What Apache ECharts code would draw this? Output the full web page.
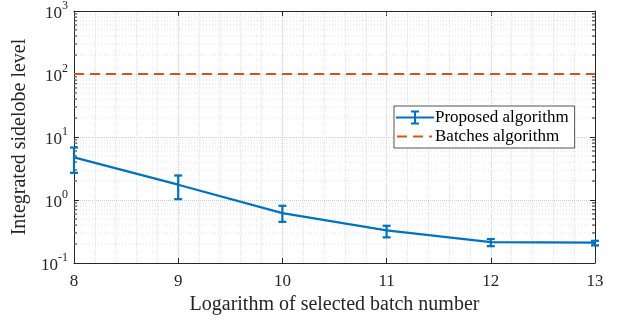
<!DOCTYPE html>
<html>
<head>
<meta charset="utf-8">
<script src="https://cdn.jsdelivr.net/npm/echarts@6/dist/echarts.min.js"></script>
<style>
html, body { margin: 0; padding: 0; background: #fff; }
#chart { width: 618px; height: 322px; }
</style>
</head>
<body>
<div id="chart"></div>
<script>
// 数据
var batchLog = [8, 9, 10, 11, 12, 13];
var proposedMean = [4.75, 1.75, 0.62, 0.33, 0.215, 0.21];
var proposedLow = [2.7, 1.03, 0.45, 0.255, 0.185, 0.19];
var proposedHigh = [6.8, 2.45, 0.81, 0.39, 0.24, 0.225];
var batchesLevel = [100, 100, 100, 100, 100, 100];
var yTicks = [0.1, 1, 10, 100, 1000];

var fontName = 'Liberation Serif';
var axisColor = '#262626';

// log轴的次网格线 2..9 x 10^k
var yMinor = [];
for (var k = -1; k < 3; k++) {
    for (var m = 2; m <= 9; m++) {
        yMinor.push(m * Math.pow(10, k));
    }
}

window.onload = function() {
    draw_chart();
}

function draw_chart() {
    var myChart = echarts.init(document.getElementById('chart'));

    // 图例图标 (38x14)
    var iconProposed = 'path://M0,6L38,6L38,8L0,8Z M18,1L20,1L20,13L18,13Z M15,0L23,0L23,2L15,2Z M15,12L23,12L23,14L15,14Z';
    var iconBatches = 'path://M0,0L0.01,0L0.01,0.01Z M37.99,13.99L38,13.99L38,14Z M1,6L11,6L11,8L1,8Z M17,6L27,6L27,8L17,8Z M33,6L36,6L36,8L33,8Z';

    var option = {
        animation: false,
        backgroundColor: '#fff',
        grid: { left: 74, right: 23, top: 9, bottom: 59, containLabel: false },
        legend: {
            orient: 'vertical',
            left: 394,
            top: 106,
            backgroundColor: '#fff',
            borderColor: axisColor,
            borderWidth: 0.8,
            borderRadius: 0,
            padding: [3, 6, 3, 2],
            itemGap: 2,
            itemWidth: 38,
            itemHeight: 14,
            textStyle: { fontFamily: fontName, fontSize: 17, color: '#000', padding: [0, 0, 0, -4] },
            data: [
                { name: 'Proposed algorithm', icon: iconProposed },
                { name: 'Batches algorithm', icon: iconBatches }
            ]
        },
        xAxis: [{
            type: 'value',
            min: 8,
            max: 13,
            interval: 1,
            position: 'bottom',
            axisLine: { onZero: false, lineStyle: { color: axisColor, width: 1 } },
            axisTick: { inside: true, length: 5, lineStyle: { color: axisColor } },
            axisLabel: { fontFamily: fontName, fontSize: 17, color: axisColor, margin: 10 },
            splitLine: { show: true, lineStyle: { type: 'dotted', color: '#cfcfcf' } },
            minorTick: { show: false, splitNumber: 5 },
            minorSplitLine: { show: true, lineStyle: { type: 'dotted', color: '#e2e2e2' } },
            name: 'Logarithm of selected batch number',
            nameLocation: 'middle',
            nameGap: 32,
            nameTextStyle: { fontFamily: fontName, fontSize: 20, color: axisColor }
        }, {
            type: 'value',
            min: 8,
            max: 13,
            interval: 1,
            position: 'top',
            axisLine: { onZero: false, lineStyle: { color: axisColor, width: 1 } },
            axisTick: { inside: true, length: 5, lineStyle: { color: axisColor } },
            axisLabel: { show: false },
            splitLine: { show: false }
        }],
        yAxis: [{
            type: 'log',
            logBase: 10,
            min: 0.1,
            max: 1000,
            position: 'left',
            axisLine: { show: true, onZero: false, lineStyle: { color: axisColor, width: 1 } },
            axisTick: { show: true, inside: true, length: 5, lineStyle: { color: axisColor } },
            axisLabel: {
                margin: 6,
                formatter: function(v) {
                    var e = Math.round(Math.log10(v));
                    return '{b|10}{s|' + e + '}';
                },
                rich: {
                    b: { fontFamily: fontName, fontSize: 17, color: axisColor, lineHeight: 22, verticalAlign: 'bottom' },
                    s: { fontFamily: fontName, fontSize: 12, color: axisColor, lineHeight: 22, verticalAlign: 'top' }
                }
            },
            splitLine: { show: true, lineStyle: { type: 'dotted', color: '#cfcfcf' } },
            name: 'Integrated sidelobe level',
            nameLocation: 'middle',
            nameGap: 38,
            nameTextStyle: { fontFamily: fontName, fontSize: 20, color: axisColor }
        }, {
            type: 'log',
            logBase: 10,
            min: 0.1,
            max: 1000,
            position: 'right',
            axisLine: { show: true, onZero: false, lineStyle: { color: axisColor, width: 1 } },
            axisTick: { show: true, inside: true, length: 5, lineStyle: { color: axisColor } },
            axisLabel: { show: false },
            splitLine: { show: false }
        }],
        series: [{
            // 次网格线和次刻度
            name: 'minor',
            type: 'custom',
            silent: true,
            z: 1,
            data: yMinor.map(function(v) { return [v]; }),
            renderItem: function(params, api) {
                var v = api.value(0);
                var p0 = api.coord([8, v]);
                var p1 = api.coord([13, v]);
                return {
                    type: 'group',
                    children: [{
                        type: 'line',
                        shape: { x1: p0[0], y1: p0[1], x2: p1[0], y2: p1[1] },
                        style: { stroke: '#e2e2e2', lineWidth: 1, lineDash: [1, 2] }
                    }, {
                        type: 'line',
                        shape: { x1: p0[0], y1: p0[1], x2: p0[0] + 3, y2: p0[1] },
                        style: { stroke: axisColor, lineWidth: 1 }
                    }, {
                        type: 'line',
                        shape: { x1: p1[0] - 3, y1: p1[1], x2: p1[0], y2: p1[1] },
                        style: { stroke: axisColor, lineWidth: 1 }
                    }]
                };
            }
        }, {
            name: 'Batches algorithm',
            type: 'line',
            showSymbol: false,
            symbol: 'none',
            z: 3,
            lineStyle: { color: '#D95319', width: 2.2, type: [10, 6] },
            itemStyle: { color: '#D95319' },
            data: batchLog.map(function(x, i) { return [x, batchesLevel[i]]; })
        }, {
            name: 'Proposed algorithm',
            type: 'line',
            showSymbol: false,
            symbol: 'none',
            z: 4,
            lineStyle: { color: '#0072BD', width: 2.2 },
            itemStyle: { color: '#0072BD' },
            data: batchLog.map(function(x, i) { return [x, proposedMean[i]]; })
        }, {
            // 误差棒
            name: 'Proposed algorithm',
            type: 'custom',
            z: 5,
            itemStyle: { color: '#0072BD' },
            data: batchLog.map(function(x, i) { return [x, proposedLow[i], proposedHigh[i]]; }),
            renderItem: function(params, api) {
                var lo = api.coord([api.value(0), api.value(1)]);
                var hi = api.coord([api.value(0), api.value(2)]);
                var w = 4;
                var st = { stroke: '#0072BD', lineWidth: 2.2 };
                return {
                    type: 'group',
                    children: [{
                        type: 'line',
                        shape: { x1: lo[0], y1: lo[1], x2: hi[0], y2: hi[1] },
                        style: st
                    }, {
                        type: 'line',
                        shape: { x1: lo[0] - w, y1: lo[1], x2: lo[0] + w, y2: lo[1] },
                        style: st
                    }, {
                        type: 'line',
                        shape: { x1: hi[0] - w, y1: hi[1], x2: hi[0] + w, y2: hi[1] },
                        style: st
                    }]
                };
            }
        }]
    };

    myChart.setOption(option);
}
</script>
</body>
</html>
